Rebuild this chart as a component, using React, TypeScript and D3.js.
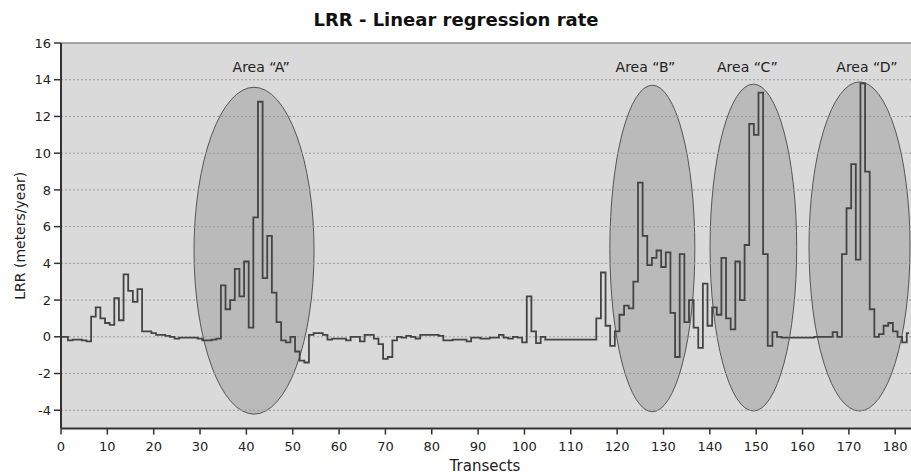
import React from 'react';
import * as d3 from 'd3';

// LRR value per transect
const lrr = [
  0, 0, -0.2, -0.15, -0.15, -0.2, -0.25, 1.1, 1.6, 1.0,
  0.75, 0.65, 2.1, 0.9, 3.4, 2.5, 1.9, 2.6, 0.3, 0.3,
  0.2, 0.1, 0.1, 0.05, 0, -0.1, -0.05, -0.05, -0.05, -0.05,
  -0.1, -0.2, -0.2, -0.15, -0.1, 2.8, 1.5, 2.0, 3.7, 2.2,
  4.1, 0.5, 6.5, 12.8, 3.2, 5.5, 2.4, 0.8, -0.2, -0.3,
  0, -0.8, -1.3, -1.4, 0.1, 0.2, 0.2, 0.1, -0.15, -0.1,
  -0.1, -0.1, -0.2, 0, 0, -0.25, 0.1, 0.1, -0.1, -0.4,
  -1.2, -1.1, -0.2, 0, -0.05, 0.05, 0, -0.1, 0.1, 0.1,
  0.1, 0.1, 0.05, -0.2, -0.2, -0.15, -0.15, -0.15, -0.25, -0.05,
  -0.05, -0.1, -0.1, -0.05, -0.05, 0.1, -0.05, -0.1, 0, -0.05,
  -0.3, 2.2, 0.3, -0.35, 0, -0.15, -0.15, -0.15, -0.15, -0.15,
  -0.15, -0.15, -0.15, -0.15, -0.15, -0.15, 1.0, 3.5, 0.6, -0.5,
  0.3, 1.2, 1.7, 1.55, 3.0, 8.4, 5.5, 3.9, 4.3, 4.7,
  3.8, 4.6, 1.3, -1.1, 4.5, 0.8, 2.0, 0.5, -0.6, 2.9,
  0.6, 1.6, 1.2, 4.3, 1.0, 0.4, 4.1, 2.0, 5.0, 11.6,
  11.0, 13.3, 4.5, -0.5, 0.25, 0, -0.05, -0.05, -0.05, -0.05,
  -0.05, -0.05, -0.05, 0, 0, 0, 0, 0.25, 0, 4.5,
  7.0, 9.4, 4.2, 13.8, 9.0, 1.5, 0, 0.15, 0.6, 0.75,
  0.3, 0, -0.3, 0.2,
];
const transects = lrr.map((_, i) => i);

// highlighted areas: label, centre transect, centre LRR, radii
const areaNames = ['A', 'B', 'C', 'D'];
const areaCx = [41.65, 127.6, 149.4, 172.3];
const areaCy = [4.69, 4.81, 4.86, 4.92];
const areaRx = [12.95, 9.17, 9.35, 10.9];
const areaRy = [8.9, 8.89, 8.9, 8.96];
const areaLabelX = [43.2, 126.1, 148.1, 173.9];

const xTicks = d3.range(0, 181, 10);
const yTicks = d3.range(-4, 17, 2);

const W = 911;
const H = 475;
const font = '"DejaVu Sans", Verdana, sans-serif';

export default function App() {
  const left = 61;
  const right = 911;
  const top = 43;
  const bottom = 428.6;

  const x = d3.scaleLinear().domain([0, 180]).range([left, 895.2]);
  const y = d3.scaleLinear().domain([-5, 16]).range([bottom, top]);

  // stepped trace, like the original
  const line = d3
    .line<number>()
    .x((_, i) => x(transects[i]))
    .y((d) => y(d))
    .curve(d3.curveStep);

  return (
    <svg width={W} height={H} style={{ position: 'absolute', left: 0, top: 0, background: '#fff' }} fontFamily={font}>
      <defs>
        <clipPath id="plot">
          <rect x={left} y={top} width={right - left} height={bottom - top} />
        </clipPath>
      </defs>

      <text x={456} y={26} textAnchor="middle" fontSize={18} fontWeight="bold" fill="#111">
        LRR - Linear regression rate
      </text>

      {/* plot area */}
      <rect x={left} y={top} width={right - left} height={bottom - top} fill="#dadada" />
      <line x1={left} x2={right} y1={top} y2={top} stroke="#8a8a8a" strokeWidth={1.5} />

      <g clipPath="url(#plot)">
        {areaNames.map((n, i) => (
          <ellipse
            key={n}
            cx={x(areaCx[i])}
            cy={y(areaCy[i])}
            rx={x(areaRx[i]) - x(0)}
            ry={y(0) - y(areaRy[i])}
            fill="rgba(120,120,120,0.33)"
            stroke="#555"
            strokeWidth={1}
          />
        ))}
        {yTicks.map((t) => (
          <line
            key={t}
            x1={left}
            x2={right}
            y1={y(t)}
            y2={y(t)}
            stroke="#9a9a9a"
            strokeWidth={1}
            strokeDasharray="2,2"
          />
        ))}
        <path d={line(lrr) || ''} fill="none" stroke="#444" strokeWidth={1.8} />
      </g>

      {areaNames.map((n, i) => (
        <text key={n} x={x(areaLabelX[i])} y={72} textAnchor="middle" fontSize={14} fill="#222">
          {`Area \u201C${n}\u201D`}
        </text>
      ))}

      {/* y axis */}
      <line x1={left} x2={left} y1={top} y2={bottom} stroke="#333" strokeWidth={2} />
      {yTicks.map((t) => (
        <g key={t}>
          <line x1={left - 7} x2={left} y1={y(t)} y2={y(t)} stroke="#333" strokeWidth={1.5} />
          <text x={left - 10} y={y(t)} dy="0.36em" textAnchor="end" fontSize={13} fill="#222">
            {t}
          </text>
        </g>
      ))}
      <text
        transform={`translate(20,${(top + bottom) / 2}) rotate(-90)`}
        textAnchor="middle"
        dy="0.35em"
        fontSize={14}
        fill="#222"
      >
        LRR (meters/year)
      </text>

      {/* x axis */}
      <line x1={left} x2={right} y1={bottom} y2={bottom} stroke="#333" strokeWidth={2} />
      {xTicks.map((t) => (
        <g key={t}>
          <line x1={x(t)} x2={x(t)} y1={bottom} y2={bottom + 6} stroke="#333" strokeWidth={1.5} />
          <text x={x(t)} y={bottom + 18} dy="0.36em" textAnchor="middle" fontSize={13} fill="#222">
            {t}
          </text>
        </g>
      ))}
      <text x={485} y={466} dy="0.36em" textAnchor="middle" fontSize={15} fill="#222">
        Transects
      </text>
    </svg>
  );
}
